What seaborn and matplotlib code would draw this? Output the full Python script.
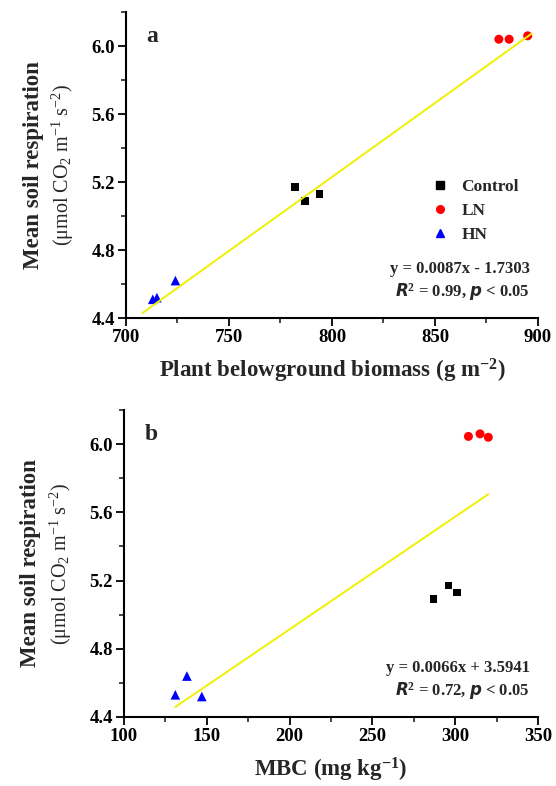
import numpy as np
import pandas as pd
import matplotlib
matplotlib.use("Agg")
import matplotlib.pyplot as plt
from matplotlib.ticker import MultipleLocator
from matplotlib.lines import Line2D
import seaborn as sns

sns.set_style("ticks")
plt.rcParams['font.family'] = ['Liberation Serif', 'DejaVu Serif']
plt.rcParams['mathtext.fontset'] = 'custom'
plt.rcParams['mathtext.rm'] = 'Liberation Serif'
plt.rcParams['mathtext.it'] = 'Liberation Serif:italic'
plt.rcParams['mathtext.bf'] = 'Liberation Serif:bold'

# ---- data ----
groups = ["Control"] * 3 + ["LN"] * 3 + ["HN"] * 3
biomass = [782, 787, 794, 881, 886, 895, 713, 715, 724]
resp_a = [5.17, 5.09, 5.13, 6.04, 6.04, 6.06, 4.51, 4.52, 4.62]
mbc = [287, 296, 301, 308, 315, 320, 131, 138, 147]
resp_b = [5.09, 5.17, 5.13, 6.045, 6.06, 6.04, 4.53, 4.64, 4.52]
fit_a = (0.0087, -1.7303)
fit_b = (0.0066, 3.5941)
fit_a_range = [708, 897]
fit_b_range = [131, 320]

palette = {"Control": "black", "LN": "red", "HN": "blue"}
markers = {"Control": "s", "LN": "o", "HN": "^"}
sizes = {"Control": 30, "LN": 42, "HN": 48}

df_a = pd.DataFrame({"x": biomass, "y": resp_a, "g": groups})
df_b = pd.DataFrame({"x": mbc, "y": resp_b, "g": groups})

fig = plt.figure(figsize=(5.56, 7.86), dpi=100)
ax1 = fig.add_axes([0.2266, 0.5954, 0.7410, 0.3893])
ax2 = fig.add_axes([0.2230, 0.0878, 0.7446, 0.3906])

tick_fs = 13.5
label_fs = 16.5

def style_axis(ax, xlim, xmaj, xmin):
    ax.set_xlim(*xlim)
    ax.set_ylim(4.4, 6.2)
    ax.xaxis.set_major_locator(MultipleLocator(xmaj))
    ax.xaxis.set_minor_locator(MultipleLocator(xmin))
    ax.set_yticks([4.4, 4.8, 5.2, 5.6, 6.0])
    ax.yaxis.set_minor_locator(MultipleLocator(0.2))
    ax.set_yticklabels(["4.4", "4.8", "5.2", "5.6", "6.0"])
    sns.despine(ax=ax)
    for s in ["left", "bottom"]:
        ax.spines[s].set_linewidth(1.5)
        ax.spines[s].set_color("black")
    ax.tick_params(which="major", direction="out", length=6, width=1.3,
                   labelsize=tick_fs, colors="black", pad=2)
    ax.tick_params(which="minor", direction="out", length=3.5, width=1.2)
    for lab in ax.get_xticklabels() + ax.get_yticklabels():
        lab.set_fontweight("bold")
    ax.set_ylabel("")
    ax.text(-0.225, 0.5, "Mean soil respiration", transform=ax.transAxes,
            rotation=90, ha="center", va="center", fontsize=label_fs,
            fontweight="bold")
    ax.text(-0.153, 0.5, r"(μmol CO$_2$ m$^{-1}$ s$^{-2}$)", transform=ax.transAxes,
            rotation=90, ha="center", va="center", fontsize=14.5)

# panel a
sns.scatterplot(data=df_a, x="x", y="y", hue="g", style="g", size="g",
                palette=palette, markers=markers, sizes=sizes,
                edgecolor="none", ax=ax1, legend=False)
xa = np.array(fit_a_range)
sns.lineplot(x=xa, y=fit_a[0] * xa + fit_a[1], color="#f0f000", lw=1.4, ax=ax1)
style_axis(ax1, (700, 900), 50, 25)
ax1.set_xlabel(r"Plant belowground biomass (g m$^{\mathbf{-2}}$)", fontsize=label_fs,
               fontweight="bold", labelpad=8)
ax1.text(0.05, 0.955, "a", transform=ax1.transAxes, fontsize=17, fontweight="bold",
         va="top")
handles = [Line2D([], [], ls="none", marker=markers[k], color=palette[k],
                  markersize=5.5) for k in ["Control", "LN", "HN"]]
ax1.legend(handles, ["Control", "LN", "HN"], loc="upper left",
           bbox_to_anchor=(0.70, 0.505), frameon=False,
           prop={"weight": "bold", "size": 12.5}, handletextpad=0.6,
           labelspacing=0.45, handlelength=1.2)
ax1.text(0.98, 0.16, "y = 0.0087x - 1.7303", transform=ax1.transAxes,
         ha="right", va="center", fontsize=12, fontweight="bold")
ax1.text(0.98, 0.085, r"$\mathbfit{R}^{\mathbf{2}}$ = 0.99, $\mathbfit{p}$ < 0.05",
         transform=ax1.transAxes, ha="right", va="center", fontsize=12,
         fontweight="bold")

# panel b
sns.scatterplot(data=df_b, x="x", y="y", hue="g", style="g", size="g",
                palette=palette, markers=markers, sizes=sizes,
                edgecolor="none", ax=ax2, legend=False)
xb = np.array(fit_b_range)
sns.lineplot(x=xb, y=fit_b[0] * xb + fit_b[1], color="#f0f000", lw=1.4, ax=ax2)
style_axis(ax2, (100, 350), 50, 25)
ax2.set_xlabel(r"MBC (mg kg$^{\mathbf{-1}}$)", fontsize=label_fs,
               fontweight="bold", labelpad=8)
ax2.text(0.05, 0.955, "b", transform=ax2.transAxes, fontsize=17, fontweight="bold",
         va="top")
ax2.text(0.98, 0.16, "y = 0.0066x + 3.5941", transform=ax2.transAxes,
         ha="right", va="center", fontsize=12, fontweight="bold")
ax2.text(0.98, 0.085, r"$\mathbfit{R}^{\mathbf{2}}$ = 0.72, $\mathbfit{p}$ < 0.05",
         transform=ax2.transAxes, ha="right", va="center", fontsize=12,
         fontweight="bold")

fig.savefig("out.png", dpi=100)
